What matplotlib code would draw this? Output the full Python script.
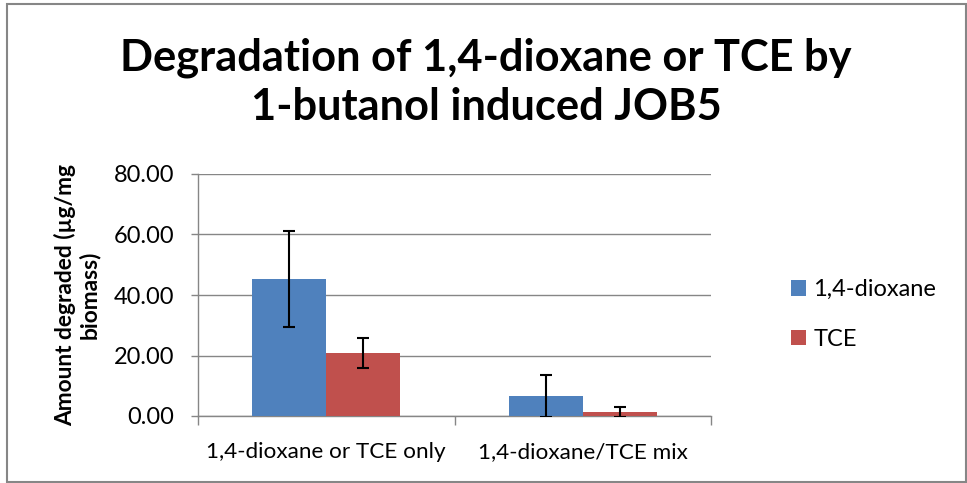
import matplotlib
matplotlib.use("Agg")
import matplotlib.pyplot as plt
import numpy as np
from matplotlib.patches import Rectangle

categories = ["1,4-dioxane or TCE only", "1,4-dioxane/TCE mix"]
series_names = ["1,4-dioxane", "TCE"]
dioxane = [45.2, 6.6]
dioxane_err = [15.8, 6.9]
tce = [20.8, 1.3]
tce_err = [5.0, 1.65]
yticks = [0, 20, 40, 60, 80]
title_lines = ["Degradation of 1,4-dioxane or TCE by", "1-butanol induced JOB5"]

plt.rcParams['font.family'] = ['Lato', 'DejaVu Sans']

W, H = 967, 483
fig = plt.figure(figsize=(W/100, H/100), dpi=100)
ax = fig.add_axes([198/W, 1-416/H, (711-198)/W, (416-174)/H])

grey = '#868686'
x = np.arange(len(categories))
w = 0.288
ekw = dict(ecolor='black', elinewidth=1.5, capsize=4, capthick=1.5, zorder=4)
ax.bar(x - w/2, dioxane, w, color='#4F81BD', label=series_names[0], zorder=3,
       yerr=dioxane_err, error_kw=ekw)
ax.bar(x + w/2, tce, w, color='#C0504D', label=series_names[1], zorder=3,
       yerr=tce_err, error_kw=ekw)

ax.set_xlim(-0.5, len(categories) - 0.5)
ax.set_ylim(0, 80)
ax.set_yticks(yticks)
ax.set_yticklabels([f"{v:.2f}" for v in yticks], fontsize=17)
ax.set_xticks(x)
ax.set_xticklabels(categories, fontsize=16.2)
ax.tick_params(axis='x', which='major', length=0, pad=19)
ax.set_xticks([-0.5, 0.5, 1.5], minor=True)
ax.tick_params(axis='x', which='minor', length=6.5, width=1.0, color=grey, direction='out')
ax.tick_params(axis='y', length=5, width=1.0, color=grey, pad=12)
ax.grid(axis='y', color=grey, linewidth=1.0, zorder=0)
for s in ['top', 'right']:
    ax.spines[s].set_visible(False)
for s in ['left', 'bottom']:
    ax.spines[s].set_color(grey)
    ax.spines[s].set_linewidth(1.0)

ax.set_ylabel("Amount degraded (µg/mg\nbiomass)", fontsize=16.4, fontweight='bold',
              linespacing=1.1)
ax.yaxis.label.set_va('center')
ax.yaxis.set_label_coords((77-198)/513, 0.5)

fig.text(486/W, 1-70/H, title_lines[0], fontsize=31.2, fontweight='bold', ha='center', va='baseline')
fig.text(486/W, 1-120/H, title_lines[1], fontsize=31.2, fontweight='bold', ha='center', va='baseline')

ax.legend(loc='center left', bbox_to_anchor=(791/W, 1-314.5/H), bbox_transform=fig.transFigure,
          frameon=False, fontsize=17, handlelength=0.64, handleheight=0.64,
          handletextpad=0.3, labelspacing=1.2, borderpad=0, borderaxespad=0)

fig.add_artist(Rectangle((6.5/W, 1/H), 959.5/W, 478/H, transform=fig.transFigure,
                         fill=False, edgecolor=grey, linewidth=1.5))

fig.savefig("out.png", dpi=100)
